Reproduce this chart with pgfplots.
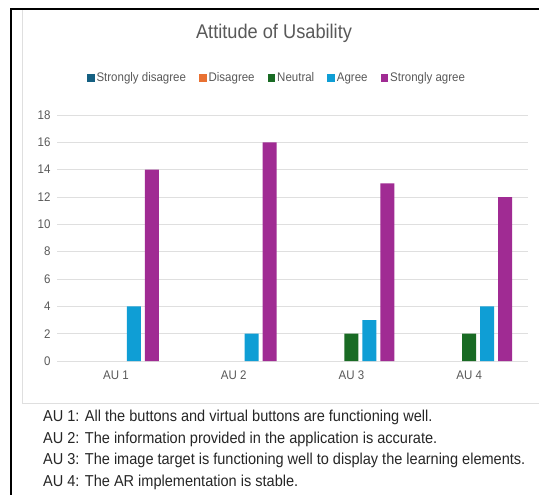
\documentclass[border=0pt]{standalone}
\usepackage{fontspec}
\setmainfont{Liberation Sans}[FakeStretch=0.92]
\usepackage{pgfplots}
\pgfplotsset{compat=1.18}
\definecolor{csd}{HTML}{156082}
\definecolor{cd}{HTML}{E97132}
\definecolor{cn}{HTML}{196B24}
\definecolor{ca}{HTML}{0F9ED5}
\definecolor{csa}{HTML}{A02B93}
\definecolor{txt}{HTML}{595959}
\begin{document}
\begin{tikzpicture}
\useasboundingbox (0pt,0pt) rectangle (539pt,-495pt);
\fill[white] (0pt,0pt) rectangle (539pt,-495pt);
\draw[gray!25, line width=0.8pt] (22pt,-9pt) -- (22pt,-403pt) -- (539pt,-403pt);
\draw[black, line width=1.6pt] (539pt,-9pt) -- (11pt,-9pt) -- (11pt,-495pt);
\node[font=\fontsize{19.8}{24}\selectfont, text=txt] at (274pt,-33pt) {Attitude of Usability};
\begin{axis}[
  at={(57pt,-361pt)}, anchor=south west,
  scale only axis, width=471pt, height=246pt,
  ybar, bar width=14pt,
  xmin=0.5, xmax=4.5, ymin=0, ymax=18,
  xtick={1,2,3,4}, xticklabels={AU 1,AU 2,AU 3,AU 4},
  ytick={0,2,...,18},
  major tick length=0pt,
  axis line style={draw=none},
  ymajorgrids, grid style={gray!25, line width=0.8pt},
  tick label style={font=\fontsize{12.5}{14}\selectfont, text=txt},
  xticklabel style={yshift=-6pt},
  yticklabel style={xshift=-3pt},
  /pgf/number format/assume math mode=true,
  legend columns=5,
  legend style={at={(0.467,1.150)}, anchor=center, draw=none, fill=none,
    font=\fontsize{12.5}{14}\selectfont, text=txt,
    /tikz/every even column/.append style={column sep=11pt}},
  clip=false,
]
\pgfplotsset{myleg/.style={legend image code/.code={\fill[##1] (0pt,-3.8pt) rectangle (7.6pt,3.8pt);}}}
% Strongly disagree and Disagree: all values 0
\addlegendimage{fill=csd, draw=none, myleg}
\addlegendimage{fill=cd, draw=none, myleg}
% Neutral: 0 for AU 1 and AU 2
\addplot[fill=cn, draw=none, myleg, bar shift=0pt] coordinates {(3,2) (4,2)};
\addplot[fill=ca, draw=none, myleg, bar shift=18pt] coordinates {(1,4) (2,2) (3,3) (4,4)};
\addplot[fill=csa, draw=none, myleg, bar shift=36pt] coordinates {(1,14) (2,16) (3,13) (4,12)};
\legend{Strongly disagree, Disagree, Neutral, Agree, Strongly agree}
\end{axis}
\begin{scope}[every node/.style={anchor=base west, font=\fontsize{15.8}{18}\selectfont, text=black!85, inner sep=0pt}]
\node at (43pt,-421.5pt) {AU 1: All the buttons and virtual buttons are functioning well.};
\node at (43pt,-443pt) {AU 2: The information provided in the application is accurate.};
\node at (43pt,-464.5pt) {AU 3: The image target is functioning well to display the learning elements.};
\node at (43pt,-486.5pt) {AU 4: The AR implementation is stable.};
\end{scope}
\end{tikzpicture}
\end{document}
